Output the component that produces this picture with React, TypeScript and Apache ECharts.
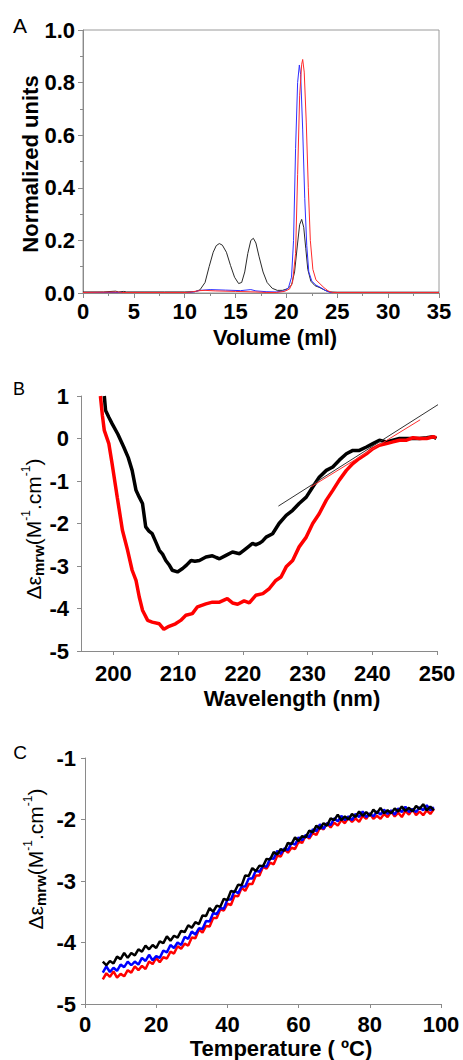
import React, { useEffect, useRef } from "react";
import * as echarts from "echarts";

const FONT = "'Liberation Sans', Arial, Helvetica, sans-serif";

// ---------- Panel A : size-exclusion profiles ----------
const aXTicks = [0, 5, 10, 15, 20, 25, 30, 35];
const aBlack: [number, number][] = [
  [0, 0.004], [2, 0.004], [3.2, 0.007], [3.5, 0.004], [4, 0.006], [4.3, 0.004], [6, 0.004], [8, 0.004],
  [10, 0.004], [11, 0.005], [11.5, 0.012], [12, 0.04], [12.4, 0.1], [12.8, 0.155], [13.1, 0.18],
  [13.4, 0.188], [13.7, 0.182], [14.1, 0.155], [14.5, 0.105], [14.9, 0.06], [15.3, 0.036], [15.6, 0.04],
  [15.9, 0.08], [16.2, 0.15], [16.5, 0.2], [16.75, 0.208], [17, 0.19], [17.3, 0.14], [17.7, 0.08],
  [18.1, 0.04], [18.6, 0.018], [19.1, 0.01], [19.6, 0.01], [20.1, 0.016], [20.5, 0.03], [20.8, 0.08],
  [21.1, 0.19], [21.3, 0.26], [21.5, 0.28], [21.7, 0.25], [21.9, 0.17], [22.1, 0.09], [22.4, 0.045],
  [22.8, 0.028], [23.3, 0.02], [23.8, 0.01], [24.3, 0.004], [25, 0.003], [30, 0.003], [35, 0.003],
];
const aBlue: [number, number][] = [
  [0, 0.002], [10.5, 0.002], [11, 0.005], [11.5, 0.01], [12.5, 0.013], [14, 0.011], [15.5, 0.009],
  [16.5, 0.013], [17, 0.008], [18, 0.005], [19, 0.004], [19.8, 0.008], [20.2, 0.02], [20.5, 0.06],
  [20.7, 0.2], [20.9, 0.55], [21.1, 0.8], [21.27, 0.867], [21.4, 0.83], [21.6, 0.62], [21.8, 0.36],
  [22, 0.18], [22.2, 0.08], [22.5, 0.045], [22.9, 0.03], [23.4, 0.02], [23.9, 0.008], [24.3, 0.002],
  [35, 0.002],
];
const aRed: [number, number][] = [
  [0, 0.002], [3.4, 0.004], [3.8, 0.002], [10.3, 0.002], [10.8, 0.005], [11.5, 0.009], [12, 0.01],
  [13, 0.008], [15, 0.006], [17, 0.004], [18, 0.002], [19, 0.002], [19.8, 0.006], [20.3, 0.015],
  [20.6, 0.04], [20.9, 0.15], [21.1, 0.45], [21.3, 0.75], [21.5, 0.87], [21.6, 0.888], [21.75, 0.84],
  [21.95, 0.65], [22.15, 0.4], [22.35, 0.2], [22.6, 0.09], [22.9, 0.05], [23.3, 0.035], [23.7, 0.02],
  [24.1, 0.008], [24.5, 0.002], [35, 0.002],
];

// ---------- Panel B : CD spectra ----------
const bXTicks = [200, 210, 220, 230, 240, 250];
const bBlack: [number, number][] = [
  [198.6, 1.0], [198.8, 0.66], [199.3, 0.5], [199.8, 0.35], [200.7, 0.1], [201.6, -0.2], [202.3, -0.45],
  [202.9, -0.75], [203.5, -1.22], [204.0, -1.38], [204.5, -1.53], [205.0, -2.08], [205.5, -2.18],
  [206.0, -2.24], [206.6, -2.45], [207.1, -2.63], [207.6, -2.72], [208.1, -2.87], [208.6, -2.97],
  [209.1, -3.1], [209.9, -3.14], [210.7, -3.06], [211.3, -2.98], [212.0, -2.87], [212.6, -2.89],
  [213.3, -2.87], [214.3, -2.79], [215.3, -2.76], [215.9, -2.8], [216.4, -2.83], [217.4, -2.75],
  [218.4, -2.67], [219.5, -2.71], [220.5, -2.59], [221.5, -2.47], [222.0, -2.5], [222.5, -2.47],
  [223.0, -2.42], [223.6, -2.32], [224.6, -2.24], [225.6, -2.0], [226.7, -1.81], [227.7, -1.69],
  [228.7, -1.53], [229.8, -1.38], [230.8, -1.14], [231.8, -0.91], [232.9, -0.75], [233.9, -0.67],
  [234.9, -0.51], [236.0, -0.36], [237.0, -0.28], [238.0, -0.28], [239.1, -0.2], [240.1, -0.12],
  [241.1, -0.04], [242.2, -0.08], [243.2, -0.04], [244.2, 0.0], [245.3, 0.0], [246.3, 0.0],
  [247.3, 0.0], [248.4, 0.02], [249.4, 0.04], [249.9, 0.0],
];
const bRed: [number, number][] = [
  [198.0, 1.0], [198.3, 0.55], [198.6, 0.19], [199.3, -0.12], [199.8, -0.59], [200.6, -1.38],
  [201.4, -2.16], [202.2, -2.63], [202.9, -3.1], [203.5, -3.34], [204.0, -3.73], [204.5, -4.04],
  [205.3, -4.28], [206.0, -4.32], [207.1, -4.36], [207.8, -4.49], [208.6, -4.42], [209.6, -4.36],
  [210.4, -4.28], [211.2, -4.16], [212.2, -4.12], [213.0, -3.96], [214.3, -3.89], [215.3, -3.85],
  [216.4, -3.85], [217.6, -3.77], [218.4, -3.87], [219.2, -3.9], [220.2, -3.82], [221.0, -3.87],
  [222.0, -3.69], [223.1, -3.65], [224.1, -3.53], [225.1, -3.34], [225.9, -3.26], [226.7, -3.02],
  [227.7, -2.87], [228.7, -2.55], [229.8, -2.32], [230.8, -2.0], [231.8, -1.77], [232.9, -1.45],
  [233.9, -1.22], [234.9, -0.98], [236.0, -0.75], [237.0, -0.59], [238.0, -0.47], [239.1, -0.36],
  [240.1, -0.24], [241.1, -0.16], [242.2, -0.12], [243.2, -0.08], [244.2, -0.04], [245.3, -0.04],
  [246.3, 0.02], [247.3, 0.0], [248.4, 0.0], [249.4, 0.04], [249.9, 0.02],
];
const bBlackFit: [number, number][] = [[225.5, -1.59], [250.4, 0.82]];
const bRedFit: [number, number][] = [[230.5, -1.14], [247.4, 0.44]];

// ---------- Panel C : thermal melts ----------
const cTemps = [
  5, 6, 7, 8, 9, 10, 11, 12, 13, 14, 15, 16, 17, 18, 19, 20, 21, 22, 23, 24, 25, 26, 27, 28, 29, 30,
  31, 32, 33, 34, 35, 36, 37, 38, 39, 40, 41, 42, 43, 44, 45, 46, 47, 48, 49, 50, 51, 52, 53, 54, 55,
  56, 57, 58, 59, 60, 61, 62, 63, 64, 65, 66, 67, 68, 69, 70, 71, 72, 73, 74, 75, 76, 77, 78, 79, 80,
  81, 82, 83, 84, 85, 86, 87, 88, 89, 90, 91, 92, 93, 94, 95, 96, 97, 98,
];
const cBlack = [
  -4.31, -4.37, -4.3, -4.34, -4.23, -4.27, -4.17, -4.25, -4.17, -4.21, -4.11, -4.15, -4.05, -4.11, -4.04,
  -4.09, -3.98, -4.01, -3.9, -3.97, -3.89, -3.92, -3.81, -3.83, -3.72, -3.76, -3.67, -3.7, -3.56, -3.57,
  -3.44, -3.5, -3.4, -3.42, -3.29, -3.31, -3.16, -3.18, -3.06, -3.07, -2.91, -2.92, -2.79, -2.84, -2.75,
  -2.76, -2.64, -2.65, -2.53, -2.57, -2.48, -2.51, -2.38, -2.4, -2.29, -2.35, -2.27, -2.29, -2.18, -2.21,
  -2.1, -2.15, -2.06, -2.1, -1.98, -2.01, -1.92, -2.01, -1.95, -2.0, -1.91, -1.96, -1.87, -1.94, -1.88,
  -1.94, -1.84, -1.9, -1.81, -1.9, -1.85, -1.9, -1.82, -1.87, -1.79, -1.86, -1.81, -1.87, -1.78, -1.83,
  -1.75, -1.85, -1.79, -1.85,
];
const cBlue = [
  -4.49, -4.39, -4.48, -4.41, -4.46, -4.36, -4.4, -4.31, -4.37, -4.31, -4.36, -4.25, -4.3, -4.2, -4.29,
  -4.22, -4.25, -4.13, -4.16, -4.04, -4.09, -4.0, -4.04, -3.91, -3.94, -3.82, -3.87, -3.77, -3.78, -3.65,
  -3.66, -3.52, -3.54, -3.44, -3.45, -3.3, -3.3, -3.16, -3.2, -3.09, -3.09, -2.96, -2.96, -2.83, -2.85,
  -2.75, -2.77, -2.63, -2.64, -2.51, -2.56, -2.47, -2.5, -2.38, -2.41, -2.29, -2.34, -2.25, -2.29, -2.16,
  -2.19, -2.08, -2.15, -2.06, -2.09, -1.98, -2.03, -1.94, -2.01, -1.95, -2.01, -1.91, -1.96, -1.87, -1.96,
  -1.9, -1.95, -1.87, -1.92, -1.84, -1.91, -1.85, -1.92, -1.82, -1.88, -1.79, -1.88, -1.83, -1.88, -1.8,
  -1.85, -1.77, -1.85, -1.8,
];
const cRed = [
  -4.6, -4.5, -4.56, -4.47, -4.57, -4.51, -4.55, -4.45, -4.49, -4.39, -4.45, -4.38, -4.43, -4.31, -4.35,
  -4.25, -4.32, -4.24, -4.26, -4.15, -4.18, -4.06, -4.1, -4.02, -4.05, -3.92, -3.93, -3.79, -3.84, -3.73,
  -3.74, -3.6, -3.6, -3.46, -3.48, -3.37, -3.39, -3.24, -3.25, -3.11, -3.16, -3.05, -3.05, -2.91, -2.91,
  -2.77, -2.8, -2.7, -2.73, -2.59, -2.6, -2.48, -2.54, -2.46, -2.48, -2.36, -2.38, -2.26, -2.31, -2.22,
  -2.25, -2.13, -2.16, -2.06, -2.13, -2.05, -2.1, -2.01, -2.06, -1.97, -2.04, -1.98, -2.04, -1.94, -1.99,
  -1.9, -1.99, -1.94, -1.99, -1.91, -1.96, -1.87, -1.95, -1.89, -1.96, -1.86, -1.92, -1.83, -1.93, -1.87,
  -1.93, -1.85, -1.91, -1.83,
];
const cXTicks = [0, 20, 40, 60, 80, 100];

const AXIS_GRAY = "#8a8a8a";
const tickLabel = { color: "#000", fontSize: 22, fontWeight: "bold" as const, fontFamily: FONT };

function pairs(xs: number[], ys: number[]): [number, number][] {
  return xs.map((x, i) => [x, ys[i]]);
}

function line(data: any, color: string, width: number, xi: number, z = 2, clip = true) {
  return {
    type: "line",
    data,
    xAxisIndex: xi,
    yAxisIndex: xi,
    showSymbol: false,
    symbol: "none",
    clip,
    z,
    lineStyle: { color, width },
    emphasis: { disabled: true },
  };
}

function rotText(text: string, x: number, y: number, size: number, bold = true, rich?: any) {
  return {
    type: "text",
    x,
    y,
    rotation: Math.PI / 2,
    style: {
      text,
      fontSize: size,
      fontWeight: bold ? "bold" : "normal",
      fontFamily: FONT,
      fill: "#000",
      textAlign: "center",
      textVerticalAlign: "middle",
      rich,
    },
  };
}

function plainText(text: string, x: number, y: number, size: number, bold = true) {
  return {
    type: "text",
    x,
    y,
    style: {
      text,
      fontSize: size,
      fontWeight: bold ? "bold" : "normal",
      fontFamily: FONT,
      fill: "#000",
      textAlign: "center",
      textVerticalAlign: "middle",
    },
  };
}

const epsRich = {
  a: { fontSize: 21, lineHeight: 26, fontFamily: FONT, fill: "#000", verticalAlign: "middle" },
  s: { fontSize: 15, lineHeight: 10, fontWeight: "bold", fontFamily: FONT, fill: "#000", verticalAlign: "bottom" },
  p: { fontSize: 12, lineHeight: 12, fontFamily: FONT, fill: "#000", verticalAlign: "top" },
};
const epsText = "{a|Δε}{s|mrw}{a|(M}{p|-1}{a|.cm}{p|-1}{a|)}";

const axisLine = { show: true, onZero: false, lineStyle: { color: AXIS_GRAY, width: 1 } };

export default function App() {
  const ref = useRef<HTMLDivElement>(null);
  useEffect(() => {
    document.body.style.margin = "0";
    const chart = echarts.init(ref.current!, null, { renderer: "svg" });
    const option: any = {
      animation: false,
      backgroundColor: "#fff",
      grid: [
        { left: 83, top: 30, width: 356, height: 263, show: true, borderColor: "#9a9a9a", borderWidth: 1, backgroundColor: "transparent" },
        { left: 81, top: 396, width: 356, height: 255 },
        { left: 85, top: 758, width: 356, height: 246 },
      ],
      xAxis: [
        {
          type: "value", gridIndex: 0, min: 0, max: 35, interval: 5,
          axisLine,
          axisTick: { show: true, length: 5, lineStyle: { color: AXIS_GRAY } },
          minorTick: { show: true, splitNumber: 2, length: 3, lineStyle: { color: AXIS_GRAY } },
          axisLabel: { ...tickLabel, margin: 7, customValues: aXTicks },
          splitLine: { show: false },
        },
        {
          type: "value", gridIndex: 1, min: 195, max: 250,
          axisLine,
          axisTick: { show: true, length: 4, lineStyle: { color: AXIS_GRAY }, customValues: bXTicks },
          axisLabel: { ...tickLabel, margin: 11, customValues: bXTicks },
          splitLine: { show: false },
        },
        {
          type: "value", gridIndex: 2, min: 0, max: 100, interval: 20,
          axisLine,
          axisTick: { show: true, length: 4, lineStyle: { color: AXIS_GRAY } },
          axisLabel: { ...tickLabel, margin: 9, customValues: cXTicks },
          splitLine: { show: false },
        },
      ],
      yAxis: [
        {
          type: "value", gridIndex: 0, min: 0, max: 1, interval: 0.2,
          axisLine,
          axisTick: { show: true, length: 5, lineStyle: { color: AXIS_GRAY } },
          minorTick: { show: true, splitNumber: 2, length: 3, lineStyle: { color: AXIS_GRAY } },
          axisLabel: { ...tickLabel, margin: 8, formatter: (v: number) => v.toFixed(1) },
          splitLine: { show: false },
        },
        {
          type: "value", gridIndex: 1, min: -5, max: 1, interval: 1,
          axisLine,
          axisTick: { show: true, length: 4, lineStyle: { color: AXIS_GRAY } },
          axisLabel: { ...tickLabel, margin: 12 },
          splitLine: { show: false },
        },
        {
          type: "value", gridIndex: 2, min: -5, max: -1, interval: 1,
          axisLine,
          axisTick: { show: true, length: 4, lineStyle: { color: AXIS_GRAY } },
          axisLabel: { ...tickLabel, margin: 9 },
          splitLine: { show: false },
        },
      ],
      series: [
        line(aBlack, "#2a2a2a", 1, 0, 3),
        line(aBlue, "#2f2fff", 1, 0, 4),
        line(aRed, "#ff2a2a", 1, 0, 5),
        line(bBlack, "#000000", 3.5, 1, 3),
        line(bRed, "#ff0000", 3.5, 1, 4),
        line(bBlackFit, "#333333", 1, 1, 5, false),
        line(bRedFit, "#ff3030", 1, 1, 6, false),
        line(pairs(cTemps, cRed), "#ff0000", 2.5, 2, 3),
        line(pairs(cTemps, cBlue), "#0000ff", 2.5, 2, 4),
        line(pairs(cTemps, cBlack), "#000000", 2.5, 2, 5),
      ],
      graphic: [
        plainText("A", 20, 25, 21, false),
        plainText("B", 19, 389, 18, false),
        plainText("C", 20, 752, 19, false),
        rotText("Normalized units", 30, 164, 22, true),
        plainText("Volume (ml)", 275, 337, 22, true),
        rotText(epsText, 33, 529, 21, false, epsRich),
        plainText("Wavelength (nm)", 292, 698, 22, true),
        rotText(epsText, 35, 859, 21, false, epsRich),
        plainText("Temperature ( ºC)", 281, 1048, 22, true),
      ],
    };
    chart.setOption(option);
    return () => chart.dispose();
  }, []);
  return <div ref={ref} style={{ width: 463, height: 1060 }} />;
}
